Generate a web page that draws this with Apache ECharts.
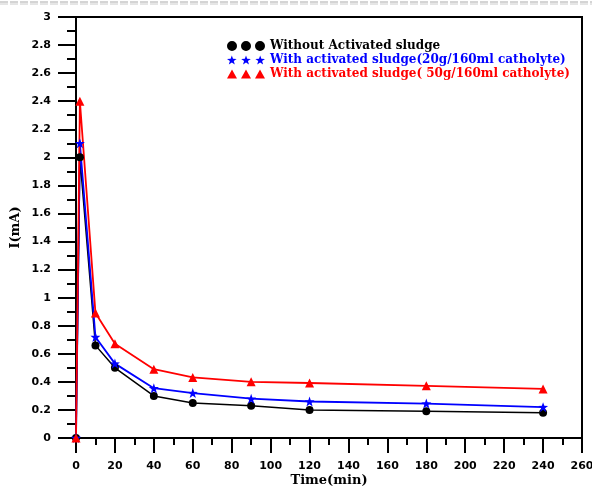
<!DOCTYPE html>
<html><head><meta charset="utf-8">
<script src="https://cdn.jsdelivr.net/npm/echarts@6/dist/echarts.min.js"></script>
<style>html,body{margin:0;padding:0;background:#fff}#c{width:592px;height:486px}</style>
</head><body><div id="c"></div>
<script>
var timeMin = [0, 2, 10, 20, 40, 60, 90, 120, 180, 240];
var withoutSludge = [0, 2.0, 0.66, 0.50, 0.30, 0.25, 0.23, 0.20, 0.19, 0.18];
var sludge20g = [0, 2.1, 0.72, 0.53, 0.355, 0.32, 0.28, 0.26, 0.245, 0.22];
var sludge50g = [0, 2.4, 0.89, 0.672, 0.49, 0.432, 0.40, 0.392, 0.372, 0.35];
var seriesNames = ['Without Activated sludge', 'With activated sludge(20g/160ml catholyte)', 'With activated sludge( 50g/160ml catholyte)'];
var xTicks = [0, 260, 20];
var yTicks = [0, 3, 0.2];

function pairs(xs, ys){ return xs.map(function(x,i){ return [x, ys[i]]; }); }

var starPts = [[5,0],[6.18,3.38],[9.76,3.45],[6.9,5.62],[7.94,9.05],[5,7],[2.06,9.05],[3.1,5.62],[0.24,3.45],[3.82,3.38]];
var starPath = 'path://M' + starPts.map(function(q){return q[0]+','+q[1];}).join(' L') + ' Z';
function starRow(){
  var s=''; [0,14,28].forEach(function(o){
    s += 'M' + starPts.map(function(q){return (q[0]+o)+','+q[1];}).join(' L') + ' Z ';
  }); return 'path://' + s;
}
function circleRow(){
  var s=''; [0,14,28].forEach(function(o){
    s += 'M'+o+',5 a5,5 0 1,0 10,0 a5,5 0 1,0 -10,0 Z ';
  }); return 'path://' + s;
}
function triRow(){
  var s=''; [0,14,28].forEach(function(o){
    s += 'M'+o+',9 L'+(o+5)+',0 L'+(o+10)+',9 Z ';
  }); return 'path://' + s;
}

var chart = echarts.init(document.getElementById('c'));
var axisFont = {fontFamily:'DejaVu Sans, Arial', fontWeight:'bold', fontSize:11, color:'#000'};
var serifBold = {fontFamily:'DejaVu Serif, Times New Roman', fontWeight:'bold', fontSize:13, color:'#000'};
chart.setOption({
  animation:false,
  backgroundColor:'#fff',
  grid:{left:76, right:10, top:17, bottom:48, show:true, borderColor:'#000', borderWidth:2,
        containLabel:false, outerBoundsMode:'none'},
  graphic:[
    {type:'line', shape:{x1:0,y1:2,x2:592,y2:2}, style:{stroke:'#aaa', lineWidth:1, lineDash:[8,2]}},
    {type:'line', shape:{x1:0,y1:4,x2:592,y2:4}, style:{stroke:'#ccc', lineWidth:1, lineDash:[8,2]}}
  ],
  legend:{
    orient:'vertical', left:222, top:35, itemGap:2, itemWidth:38, itemHeight:10,
    textStyle:{fontFamily:'DejaVu Serif, Times New Roman', fontWeight:'bold', fontSize:12},
    data:[
      {name:seriesNames[0], icon:circleRow(), textStyle:{color:'#000'}},
      {name:seriesNames[1], icon:starRow(), textStyle:{color:'#0000ff'}},
      {name:seriesNames[2], icon:triRow(), textStyle:{color:'#ff0000'}}
    ]
  },
  xAxis:{
    type:'value', min:xTicks[0], max:xTicks[1], interval:xTicks[2],
    name:'Time(min)', nameLocation:'middle', nameGap:36, nameMoveOverlap:false,
    nameTextStyle:serifBold,
    axisLine:{show:true, onZero:false, lineStyle:{color:'#000', width:2}},
    axisTick:{show:true, inside:false, length:15, lineStyle:{color:'#000', width:2}},
    minorTick:{show:true, splitNumber:2, length:7, lineStyle:{color:'#000', width:2}},
    axisLabel:Object.assign({margin:23}, axisFont),
    splitLine:{show:false}
  },
  yAxis:{
    type:'value', min:yTicks[0], max:yTicks[1], interval:yTicks[2],
    name:'I(mA)', nameLocation:'middle', nameGap:54, nameMoveOverlap:false,
    nameTextStyle:serifBold,
    axisLine:{show:true, onZero:false, lineStyle:{color:'#000', width:2}},
    axisTick:{show:true, inside:false, length:18, lineStyle:{color:'#000', width:2}},
    minorTick:{show:true, splitNumber:2, length:9, lineStyle:{color:'#000', width:2}},
    axisLabel:Object.assign({margin:25}, axisFont),
    splitLine:{show:false}
  },
  series:[
    {name:seriesNames[0], type:'line', data:pairs(timeMin, withoutSludge), symbol:'circle', symbolSize:8,
     color:'#000', lineStyle:{width:1.5, color:'#000'}, itemStyle:{color:'#000'}},
    {name:seriesNames[1], type:'line', data:pairs(timeMin, sludge20g), symbol:starPath, symbolSize:10,
     color:'#0000ff', lineStyle:{width:1.8, color:'#0000ff'}, itemStyle:{color:'#0000ff'}},
    {name:seriesNames[2], type:'line', data:pairs(timeMin, sludge50g), symbol:'triangle', symbolSize:9,
     color:'#ff0000', lineStyle:{width:1.8, color:'#ff0000'}, itemStyle:{color:'#ff0000'}}
  ]
});
</script></body></html>
